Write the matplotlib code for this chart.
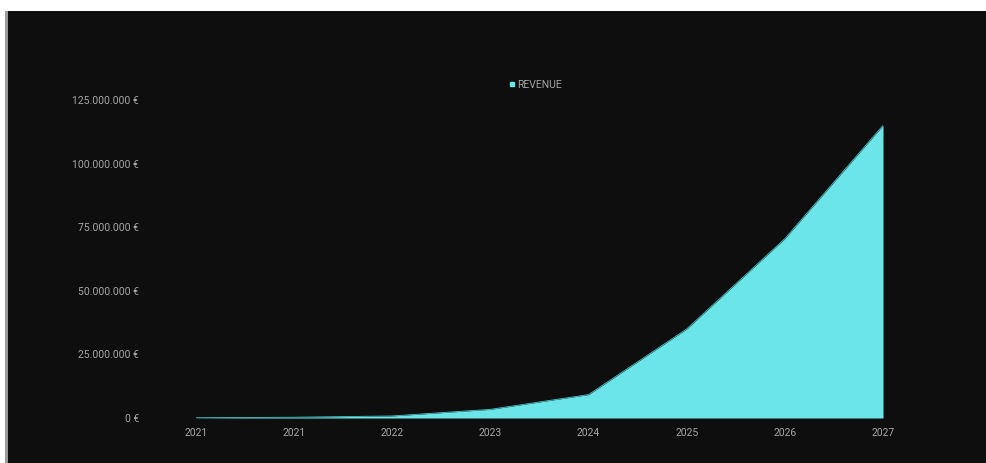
import matplotlib
matplotlib.use("Agg")
import matplotlib.pyplot as plt
from matplotlib.lines import Line2D
from matplotlib.patches import Rectangle
from matplotlib.ticker import FuncFormatter

# Revenue per period (EUR)
years = ["2021", "2021", "2022", "2023", "2024", "2025", "2026", "2027"]
revenue = [0.1e6, 0.3e6, 0.8e6, 3.4e6, 9.2e6, 35e6, 70.5e6, 115e6]
y_ticks = [0, 25e6, 50e6, 75e6, 100e6, 125e6]

plt.rcParams["font.family"] = ["Liberation Sans Narrow", "Roboto", "DejaVu Sans"]

fill_color = "#6be5e8"
edge_color = "#4cc4c7"
text_color = "#a6a6a6"
panel_color = "#0e0e0e"

fig = plt.figure(figsize=(9.87, 4.63), dpi=100, facecolor="white")

# dark card behind the chart, with the thin grey edge on the left
fig.patches.append(Rectangle((5 / 987, 0), 3 / 987, 452 / 463, transform=fig.transFigure,
                             facecolor="#9a9a9a", edgecolor="none", zorder=-10))
fig.patches.append(Rectangle((8 / 987, 0), 979 / 987, 452 / 463, transform=fig.transFigure,
                             facecolor=panel_color, edgecolor="none", zorder=-10))

ax = fig.add_axes([196 / 987, 45 / 463, 687 / 987, 318 / 463])
ax.set_facecolor("none")

x = list(range(len(years)))
ax.fill_between(x, revenue, 0, color=fill_color, linewidth=0)
ax.plot(x, revenue, color=edge_color, linewidth=0.6)
ax.plot([x[-1], x[-1]], [0, revenue[-1]], color=edge_color, linewidth=0.6)

ax.set_xlim(0, len(years) - 1)
ax.set_ylim(0, 125e6)
ax.set_xticks(x)
ax.set_xticklabels(years)
ax.set_yticks(y_ticks)
ax.yaxis.set_major_formatter(FuncFormatter(lambda v, p: f"{int(v):,} €".replace(",", ".")))

for s in ax.spines.values():
    s.set_visible(False)
ax.tick_params(axis="both", length=0, colors=text_color, labelsize=7.5)
ax.tick_params(axis="y", pad=41)
ax.tick_params(axis="x", pad=7.5)

handle = Line2D([], [], marker="s", linestyle="none", markersize=3.5,
                markerfacecolor=fill_color, markeredgecolor=fill_color)
leg = fig.legend([handle], ["REVENUE"], loc="center", bbox_to_anchor=(535 / 987, 1 - 85 / 463),
                 frameon=False, fontsize=7.5, handletextpad=0.1, handlelength=0.8,
                 labelcolor=text_color)

fig.savefig("out.png", dpi=100, facecolor=fig.get_facecolor())
